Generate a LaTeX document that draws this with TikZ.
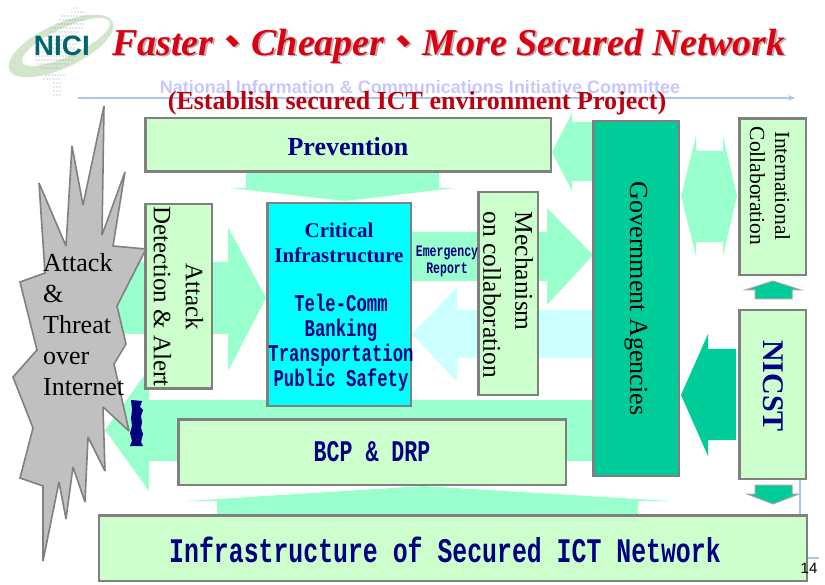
\documentclass[tikz,border=0pt]{standalone}
\usepackage{fontspec}
\setmainfont{Liberation Serif}
\newfontfamily\sansfnt{Liberation Sans}
\newfontfamily\narrowmono[FakeStretch=0.72]{Liberation Mono}
\newfontfamily\cjkfnt{Noto Sans CJK TC}
\definecolor{BoxGreen}{HTML}{CCFFCC}
\definecolor{FlowGreen}{HTML}{99FFCC}
\definecolor{FlowCyan}{HTML}{CCFFFF}
\definecolor{CoreCyan}{HTML}{00FFFF}
\definecolor{GovTeal}{HTML}{00CC99}
\definecolor{EdgeGray}{HTML}{808080}
\definecolor{BurstGray}{HTML}{C0C0C0}
\definecolor{DeepNavy}{HTML}{000080}
\definecolor{TitleRed}{HTML}{DD0011}
\definecolor{RuleBlue}{HTML}{A9C9E6}
\definecolor{LogoGreen}{HTML}{D3E6CC}
\definecolor{LogoTeal}{HTML}{00666B}
\definecolor{LogoDot}{HTML}{8A9AAE}
\newcommand{\fsz}[2]{\fontsize{#1}{#2}\selectfont}
\usetikzlibrary{arrows.meta}
\tikzset{
  panel/.style={draw=EdgeGray, line width=2.5pt, fill=BoxGreen, inner sep=0pt, align=center},
  flow/.style={fill=FlowGreen},
  tealflow/.style={fill=GovTeal},
  smallflow/.style={fill=GovTeal, draw=EdgeGray!70, line width=1pt},
  plaintext/.style={inner sep=0pt, align=center},
  monolabel/.style={plaintext, text=DeepNavy, font=\narrowmono\bfseries\fsz{#1}{#1}},
  rule/.style={draw=RuleBlue, line width=1.3pt}
}
\begin{document}
\begin{tikzpicture}[x=1pt, y=-1pt]
    \useasboundingbox (0,0) rectangle (825,585);
    % logo
    \fill[LogoGreen] (61,46) ellipse [x radius=57pt, y radius=22pt, rotate=25];
    \fill[white] (66,42) ellipse [x radius=48pt, y radius=14pt, rotate=25];
    \foreach \ya/\xa/\xb in {8/74/78, 12/72/84, 16/62/86, 20/60/86, 24/56/85, 28/52/83, 32/50/78,
      36/48/76, 40/46/76, 44/46/76, 48/44/76, 52/40/76, 56/36/75, 60/36/72, 64/38/68, 68/42/62,
      75/46/66, 79/44/60, 83/54/60, 87/54/60, 91/54/60, 95/54/60}{
      \pgfmathsetmacro{\xc}{\xa+3}
      \foreach \xd in {\xa,\xc,...,\xb}{
        \fill[LogoDot] (\xd,\ya) circle (0.7pt);
      }
    }
    \node[plaintext, text=LogoTeal, font=\sansfnt\bfseries\fsz{28}{28}] (nici) at (62,46) {NICI};
    % title
    \node[plaintext, text=black!30, font=\bfseries\itshape\fsz{38}{38}] (titleshade) at (450.5,47.5)
      {Faster{\cjkfnt\upshape 、}Cheaper{\cjkfnt\upshape 、}More Secured Network};
    \node[plaintext, text=TitleRed, font=\bfseries\itshape\fsz{38}{38}] (title) at (449,46)
      {Faster{\cjkfnt\upshape 、}Cheaper{\cjkfnt\upshape 、}More Secured Network};
    \node[plaintext, text=blue!22, font=\sansfnt\bfseries\fsz{18}{18}] (committee) at (420,87)
      {National Information \& Communications Initiative Committee};
    \coordinate (ruleL) at (78,98);
    \coordinate (ruleR) at (795,98);
    \draw[rule, -{Stealth[length=7pt,width=6pt]}] (ruleL) -- (ruleR);
    \node[plaintext, text=TitleRed!85!black, font=\bfseries\fsz{26}{26}] (project) at (417,103)
      {(Establish secured ICT environment Project)};
    % thin rules at the lower right
    \coordinate (sideT) at (800,480);
    \coordinate (sideB) at (800,515);
    \draw[rule] (sideT) -- (sideB);
    \coordinate (pageL) at (805,558);
    \coordinate (pageR) at (819,558);
    \draw[rule] (pageL) -- (pageR);
    % block arrows
    \fill[flow] (593,122) -- (572,122) -- (572,113) -- (552,152) -- (572,191) -- (572,181) -- (593,181) -- cycle;
    \fill[flow] (246,172) -- (246,188) -- (230,188) -- (345,201) -- (455,188) -- (439,188) -- (439,172) -- cycle;
    \fill[flow] (110,262) -- (228,262) -- (228,227) -- (266,298) -- (228,371) -- (228,334) -- (110,334) -- cycle;
    \fill[flow] (412,232) -- (547,232) -- (547,208) -- (593,255) -- (547,305) -- (547,281) -- (412,281) -- cycle;
    \fill[FlowCyan] (593,310) -- (457,310) -- (457,287) -- (412,334) -- (457,382) -- (457,358) -- (593,358) -- cycle;
    \fill[flow] (681,196) -- (696,136) -- (696,151) -- (723,151) -- (723,136) -- (737,196)
      -- (723,256) -- (723,242) -- (696,242) -- (696,256) -- cycle;
    \fill[flow] (593,400) -- (149,400) -- (149,369) -- (105,430) -- (149,491) -- (149,461) -- (593,461) -- cycle;
    \fill[flow] (217,514) -- (217,501) -- (187,501) -- (423,486) -- (670,501) -- (638,501) -- (638,514) -- cycle;
    \fill[tealflow] (736,349) -- (708,349) -- (708,334) -- (681,395) -- (708,456) -- (708,440) -- (736,440) -- cycle;
    \filldraw[smallflow] (755,299) -- (755,290) -- (745,290) -- (773,281) -- (801,290) -- (792,290) -- (792,299) -- cycle;
    \filldraw[smallflow] (755,485) -- (755,494) -- (747,494) -- (773,504) -- (799,494) -- (792,494) -- (792,485) -- cycle;
    % boxes
    \node[panel, minimum width=405.5pt, minimum height=53.5pt] (prevention) at (348,145) {};
    \node[plaintext, text=DeepNavy, font=\bfseries\fsz{26}{26}] (preventiontext) at (348,147) {Prevention};
    \node[panel, fill=GovTeal, rotate=-90, minimum width=354.5pt, minimum height=85.5pt, font=\fsz{26}{26}]
      (government) at (636,298.5) {Government Agencies};
    \node[panel, rotate=-90, minimum width=156.5pt, minimum height=66.5pt] (international) at (772.5,197) {};
    \node[plaintext, rotate=-90, font=\fsz{21.5}{25}] (internationaltext) at (770,186) {International\\Collaboration};
    \node[panel, rotate=-90, minimum width=168.5pt, minimum height=66.5pt] (nicst) at (772.5,394.5) {};
    \node[plaintext, rotate=-90, text=DeepNavy, font=\bfseries\fsz{30}{30}] (nicsttext) at (773,386) {NICST};
    \node[panel, rotate=-90, minimum width=202.5pt, minimum height=59.5pt] (mechanism) at (508.3,293.5) {};
    \node[plaintext, align=left, rotate=-90, font=\fsz{25.5}{32}] (mechanismtext) at (508,295) {Mechanism\\on collaboration};
    \node[panel, fill=CoreCyan, minimum width=143.5pt, minimum height=202.5pt] (critical) at (339,304.5) {};
    \node[plaintext, text=DeepNavy, font=\bfseries\fsz{21}{25}] (criticaltext) at (339,243) {Critical\\Infrastructure};
    \node[monolabel=24] (sectors) at (341,343) {Tele-Comm\\[1pt]Banking\\[1pt]Transportation\\[1pt]Public Safety};
    \node[monolabel=16] (emergency) at (447,261) {Emergency\\[1pt]Report};
    \node[panel, rotate=-90, minimum width=184.5pt, minimum height=66.5pt, font=\fsz{25}{32}]
      (detection) at (178.5,296.5) {Attack\\Detection \& Alert};
    \node[panel, minimum width=387.5pt, minimum height=65.5pt, monolabel=30, inner sep=0pt,
      draw=EdgeGray, fill=BoxGreen] (bcp) at (372,452) {BCP \& DRP};
    \node[panel, minimum width=708pt, minimum height=65.5pt] (infrastructure) at (453,548) {};
    \node[monolabel=34.5] (infrastructuretext) at (445,550) {Infrastructure of Secured ICT Network};
    \node[plaintext, font=\sansfnt\fsz{15}{15}] (pagenumber) at (809,568) {14};
    % attack burst
    \filldraw[fill=BurstGray, draw=EdgeGray, line width=1.6pt, line join=miter, miter limit=2]
      (104,106) -- (102,235) -- (125,172) -- (113,246) -- (146,249) -- (117,306) -- (126,344)
      -- (114,364) -- (129,431) -- (103,407) -- (105,471) -- (88,437) -- (85,502) -- (73,467)
      -- (66,519) -- (59,482) -- (43,561) -- (43,486) -- (20,478) -- (33,428) -- (13,377)
      -- (37,350) -- (20,282) -- (45,273) -- (39,183) -- (66,246) -- (72,146) -- (83,205) -- cycle;
    \node[plaintext, align=left, anchor=west, font=\fsz{26}{31}] (attack) at (43,325)
      {Attack\\\&\\Threat\\over\\Internet};
    % unreadable stacked blue lettering
    \fill[DeepNavy] (131,400) -- (142,401) -- (140,407) -- (143,410) -- (141,416) -- (142,422) -- (141,428)
      -- (143,434) -- (141,442) -- (143,446) -- (130,446) -- (132,441) -- (130,433) -- (132,426) -- (131,418)
      -- (132,410) -- cycle;
  \end{tikzpicture}
\end{document}
